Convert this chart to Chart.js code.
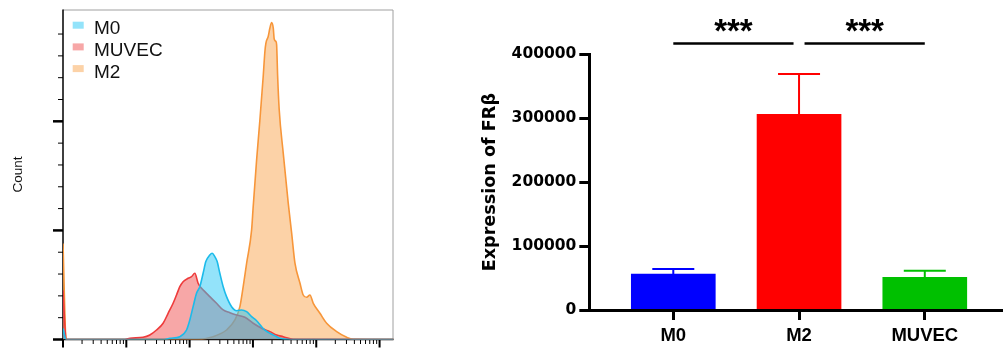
<!DOCTYPE html>
<html>
<head>
<meta charset="utf-8">
<script src="https://cdn.jsdelivr.net/npm/chart.js@4.4.0/dist/chart.umd.min.js"></script>
<style>
  html, body { margin: 0; padding: 0; background: #fff; }
  #wrap { position: relative; width: 1003px; height: 349px; overflow: hidden; }
  #histChart { position: absolute; left: 0; top: 0; }
  #barChart { position: absolute; left: 440px; top: 0; }
</style>
</head>
<body>
<div id="wrap">
  <canvas id="histChart" width="440" height="349"></canvas>
  <canvas id="barChart" width="563" height="349"></canvas>
</div>
<script>
// ---- flow histogram: x given as log10(intensity), y as event count ----
const histLabels = ['M0', 'MUVEC', 'M2'];

const m0Log = [1.0, 1.05, 2.60, 2.688, 2.845, 2.951, 3.003, 3.055, 3.109, 3.161, 3.213, 3.256, 3.319, 3.356,
  3.398, 3.435, 3.477, 3.530, 3.583, 3.663, 3.742, 3.821, 3.900, 3.979, 4.058, 4.137, 4.189, 4.268, 4.374,
  4.426, 4.58, 6.22];
const m0Count = [10, 0, 0, 1.1, 2.6, 8.7, 17.9, 30.1, 42.4, 48.4, 60.7, 71.4, 77.5, 79.1,
  76.0, 71.4, 60.7, 48.4, 39.3, 30.1, 26.4, 27.1, 25.5, 20.9, 17.2, 11.7, 8.7, 5.7, 2.6,
  1.1, 0, 0];

const muvecLog = [1.0, 1.05, 1.976, 2.056, 2.265, 2.371, 2.477, 2.581, 2.660, 2.739, 2.793, 2.845, 2.897,
  2.976, 3.030, 3.082, 3.134, 3.188, 3.240, 3.319, 3.425, 3.530, 3.636, 3.742, 3.873, 4.004, 4.137, 4.268,
  4.374, 4.478, 4.636, 6.22];
const muvecCount = [45, 0, 0, 1.1, 2.0, 4.1, 8.7, 14.9, 24.0, 33.2, 40.8, 48.4, 53.0,
  56.1, 57.6, 60.7, 51.6, 47.0, 43.9, 39.3, 33.2, 27.1, 24.6, 22.5, 20.4, 14.9, 10.3, 7.2,
  4.1, 2.6, 0.2, 0];

const m2Log = [1.0, 1.05, 3.0, 3.109, 3.372, 3.583, 3.715, 3.794, 3.846, 3.900, 3.979, 4.004, 4.058, 4.110,
  4.162, 4.189, 4.205, 4.241, 4.268, 4.295, 4.321, 4.336, 4.363, 4.374, 4.390, 4.415, 4.478, 4.557, 4.611,
  4.663, 4.742, 4.794, 4.848, 4.900, 4.953, 5.058, 5.164, 5.323, 5.481, 5.585, 6.22];
const m2Count = [88, 0, 0, 0, 2.6, 8.7, 17.9, 30.1, 48.4, 69.9, 100.5, 121.8, 164.7, 201.4,
  241.1, 264, 271.7, 277.8, 285.5, 290.6, 285.5, 275.4, 273.2, 270.2, 241.6, 210.6, 171.1, 125.2, 97.7,
  70.2, 51.8, 40.8, 38.7, 40.8, 33.2, 24.0, 14.9, 7.2, 2.0, 0.2, 0];

// ---- bar chart: FRβ expression ----
const categories = ['M0', 'M2', 'MUVEC'];
const frbMean = [56300, 306000, 51200];
const frbSD = [7800, 63000, 10300];
const sigPairs = [[0, 1], [1, 2]];
const sigText = ['***', '***'];

Chart.defaults.font.family = '"Liberation Sans", Arial, sans-serif';
Chart.defaults.color = '#000';

function toPoints(logs, counts) {
  return logs.map((l, i) => ({ x: Math.pow(10, l), y: counts[i] }));
}

// histogram axes, drawn under the curves so the zero line of the curves sits on top
const histAxes = {
  id: 'histAxes',
  beforeDatasetsDraw(chart) {
    const { ctx, chartArea: a, scales: { x, y } } = chart;
    ctx.save();
    ctx.strokeStyle = '#a0a0a0';
    ctx.lineWidth = 1;
    ctx.beginPath();
    ctx.moveTo(a.left, a.top + 0.5);
    ctx.lineTo(a.right - 0.5, a.top + 0.5);
    ctx.lineTo(a.right - 0.5, a.bottom);
    ctx.stroke();

    ctx.strokeStyle = '#000';
    ctx.lineWidth = 1.5;
    ctx.beginPath();
    ctx.moveTo(a.left, a.top);
    ctx.lineTo(a.left, a.bottom);
    ctx.lineTo(a.right, a.bottom);
    ctx.stroke();

    // log ticks on x
    x.ticks.forEach(t => {
      const e = Math.floor(Math.log10(t.value) + 1e-9);
      const m = t.value / Math.pow(10, e);
      if (Math.abs(m - Math.round(m)) > 1e-6 || t.value > x.max) return;
      const major = Math.round(m) === 1;
      const px = x.getPixelForValue(t.value);
      ctx.lineWidth = major ? 2 : 1;
      ctx.beginPath();
      ctx.moveTo(px, a.bottom);
      ctx.lineTo(px, a.bottom + (major ? 8 : 4.5));
      ctx.stroke();
    });
    // count ticks on y
    y.ticks.forEach(t => {
      if (t.value % 20 !== 0) return;
      const major = t.value % 100 === 0;
      const py = y.getPixelForValue(t.value);
      ctx.lineWidth = major ? 2.5 : 1;
      ctx.beginPath();
      ctx.moveTo(a.left, py);
      ctx.lineTo(a.left - (major ? 10 : 5), py);
      ctx.stroke();
    });
    ctx.restore();
  }
};

const histLegend = {
  id: 'histLegend',
  afterDraw(chart) {
    const { ctx, chartArea: a } = chart;
    ctx.save();
    ctx.font = '19px "Liberation Sans", Arial, sans-serif';
    ctx.textBaseline = 'alphabetic';
    chart.data.datasets.forEach((ds, i) => {
      const base = a.top + 24.8 + i * 21.7;
      ctx.fillStyle = ds.backgroundColor;
      ctx.fillRect(a.left + 9.7, base - 12.6, 11, 7);
      ctx.fillStyle = '#111';
      ctx.fillText(ds.label, a.left + 31, base);
    });
    ctx.restore();
  }
};

new Chart(document.getElementById('histChart'), {
  type: 'line',
  data: {
    datasets: [
      { label: histLabels[0], data: toPoints(m0Log, m0Count), borderColor: '#1cbbea',
        backgroundColor: 'rgba(40,200,245,0.5)' },
      { label: histLabels[1], data: toPoints(muvecLog, muvecCount), borderColor: '#ee3b3b',
        backgroundColor: 'rgba(240,80,80,0.5)' },
      { label: histLabels[2], data: toPoints(m2Log, m2Count), borderColor: '#f7963a',
        backgroundColor: 'rgba(250,165,80,0.5)' }
    ]
  },
  options: {
    responsive: false,
    animation: false,
    devicePixelRatio: 1,
    layout: { padding: { top: 9.5, right: 46.5, left: 0, bottom: 0 } },
    elements: {
      line: { borderWidth: 1.6, fill: 'origin', cubicInterpolationMode: 'monotone' },
      point: { radius: 0 }
    },
    plugins: { legend: { display: false }, tooltip: { enabled: false } },
    scales: {
      x: {
        type: 'logarithmic',
        min: 10,
        max: Math.pow(10, 6.22),
        afterFit: s => { s.height = 9.5; },
        ticks: { display: false },
        grid: { display: false },
        border: { display: false }
      },
      y: {
        min: 0,
        max: 302.5,
        afterFit: s => { s.width = 63; },
        ticks: { display: false, stepSize: 20 },
        grid: { display: false },
        border: { display: false },
        title: {
          display: true,
          text: 'Count',
          color: '#111',
          font: { size: 13.5 },
          padding: { top: 10, bottom: 0 }
        }
      }
    }
  },
  plugins: [histAxes, histLegend]
});

// error bars + significance brackets for the bar chart
const barExtras = {
  id: 'barExtras',
  afterDatasetsDraw(chart) {
    const { ctx, scales: { x, y } } = chart;
    const colors = chart.data.datasets[0].backgroundColor;
    ctx.save();
    ctx.lineWidth = 2;
    frbMean.forEach((m, i) => {
      const px = x.getPixelForValue(i);
      const yBar = y.getPixelForValue(m);
      const yTop = y.getPixelForValue(m + frbSD[i]);
      ctx.strokeStyle = colors[i];
      ctx.beginPath();
      ctx.moveTo(px, yBar);
      ctx.lineTo(px, yTop);
      ctx.moveTo(px - 21, yTop);
      ctx.lineTo(px + 21, yTop);
      ctx.stroke();
    });

    const lineY = y.getPixelForValue(417000);
    const inset = 5.5;
    ctx.strokeStyle = '#000';
    ctx.lineWidth = 2.5;
    ctx.fillStyle = '#000';
    ctx.font = 'bold 33px "Liberation Sans", Arial, sans-serif';
    ctx.textAlign = 'center';
    ctx.textBaseline = 'alphabetic';
    sigPairs.forEach((p, k) => {
      const x1 = x.getPixelForValue(p[0]) + (p[0] === 1 ? inset : 0);
      const x2 = x.getPixelForValue(p[1]) - (p[1] === 1 ? inset : 0);
      ctx.beginPath();
      ctx.moveTo(x1, lineY);
      ctx.lineTo(x2, lineY);
      ctx.stroke();
      ctx.fillText(sigText[k], (x1 + x2) / 2, lineY - 1);
    });
    ctx.restore();
  }
};

new Chart(document.getElementById('barChart'), {
  type: 'bar',
  data: {
    datasets: [{
      data: frbMean.map((v, i) => ({ x: i, y: v })),
      backgroundColor: ['#0000ff', '#ff0000', '#00c000'],
      borderWidth: 0,
      barThickness: 84
    }]
  },
  options: {
    responsive: false,
    animation: false,
    devicePixelRatio: 1,
    layout: { padding: { top: 54.3, right: 0, left: 0, bottom: 0 } },
    plugins: { legend: { display: false }, tooltip: { enabled: false } },
    scales: {
      x: {
        type: 'linear',
        offset: false,
        min: -0.668,
        max: 2.622,
        afterBuildTicks: s => { s.ticks = categories.map((c, i) => ({ value: i })); },
        afterFit: s => { s.height = 39; },
        ticks: {
          callback: v => categories[v],
          color: '#000',
          padding: 5,
          autoSkip: false,
          maxRotation: 0,
          font: { size: 18.5, weight: 'bold' }
        },
        grid: { offset: false, drawOnChartArea: false, tickLength: 10, tickWidth: 3, tickColor: '#000' },
        border: { display: true, width: 3, color: '#000', z: 1 }
      },
      y: {
        min: 0,
        max: 400000,
        afterFit: s => { s.width = 149.3; },
        ticks: {
          stepSize: 100000,
          callback: v => String(v),
          color: '#000',
          padding: 3,
          font: { family: '"DejaVu Sans", sans-serif', size: 15.5, weight: 'bold' }
        },
        grid: { drawOnChartArea: false, tickLength: 10, tickWidth: 3, tickColor: '#000' },
        border: { display: true, width: 3, color: '#000', z: 1 },
        title: {
          display: true,
          text: 'Expression of FRβ',
          color: '#000',
          font: { family: '"DejaVu Sans", sans-serif', size: 17.6, weight: 'bold' },
          padding: { top: 40, bottom: 0 }
        }
      }
    }
  },
  plugins: [barExtras]
});
</script>
</body>
</html>
